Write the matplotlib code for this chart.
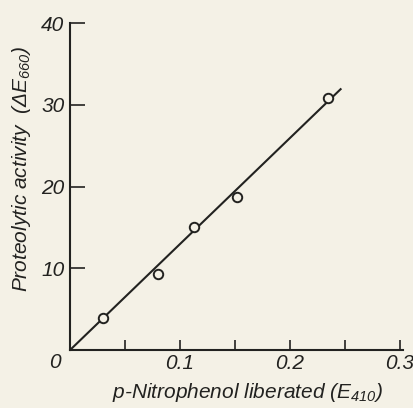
import numpy as np
import matplotlib
matplotlib.use("Agg")
import matplotlib.pyplot as plt
from matplotlib.ticker import MultipleLocator

# measured points: p-nitrophenol liberated vs proteolytic activity
nitrophenol = [0.030, 0.080, 0.113, 0.152, 0.235]
activity = [3.9, 9.3, 15.1, 18.7, 30.8]

# fitted line through the origin
fit_x = [0.0, 0.247]
fit_y = [0.0, 32.0]

x_ticks = [0.1, 0.2, 0.3]
x_ticklabels = ["0.1", "0.2", "0.3"]
y_ticks = [10, 20, 30, 40]
y_ticklabels = ["10", "20", "30", "40"]

paper = "#f4f1e6"
ink = "#222220"

plt.rcParams["font.family"] = ["Liberation Sans", "DejaVu Sans"]
plt.rcParams["font.style"] = "italic"
plt.rcParams["mathtext.fontset"] = "custom"
plt.rcParams["mathtext.rm"] = "Liberation Sans:italic"
plt.rcParams["mathtext.it"] = "Liberation Sans:italic"
plt.rcParams["mathtext.default"] = "rm"

fig = plt.figure(figsize=(4.13, 4.08), dpi=100, facecolor=paper)
ax = fig.add_axes([0.1695, 0.142, 0.806, 0.8015], facecolor=paper)

ax.plot(fit_x, fit_y, color=ink, lw=1.5, solid_capstyle="butt")
ax.plot(nitrophenol, activity, "o", ms=6.8, mfc=paper, mec=ink, mew=1.4)

ax.set_xlim(0, 0.303)
ax.set_ylim(0, 40)

for s in ["top", "right"]:
    ax.spines[s].set_visible(False)
for s in ["left", "bottom"]:
    ax.spines[s].set_color(ink)
    ax.spines[s].set_linewidth(1.5)

ax.set_xticks(x_ticks)
ax.set_xticklabels(x_ticklabels)
ax.xaxis.set_minor_locator(MultipleLocator(0.05))
ax.set_yticks(y_ticks)
ax.set_yticklabels(y_ticklabels)

ax.tick_params(axis="x", which="both", direction="in", length=7, width=1.2,
               color=ink, labelcolor=ink, labelsize=15, pad=3)
ax.tick_params(axis="y", which="major", direction="in", length=11, width=1.2,
               color=ink, labelcolor=ink, labelsize=15, pad=4)

# single zero at the corner
ax.text(-0.045, -0.037, "0", transform=ax.transAxes, ha="center", va="center",
        fontsize=15, color=ink)

ax.set_xlabel("p-Nitrophenol liberated (E$_{410}$)", fontsize=15, color=ink)
ax.set_ylabel("Proteolytic activity  (ΔE$_{660}$)", fontsize=15, color=ink)
ax.xaxis.set_label_coords(0.535, -0.095)
ax.yaxis.set_label_coords(-0.11, 0.555)

fig.savefig("out.png", dpi=100, facecolor=paper)
